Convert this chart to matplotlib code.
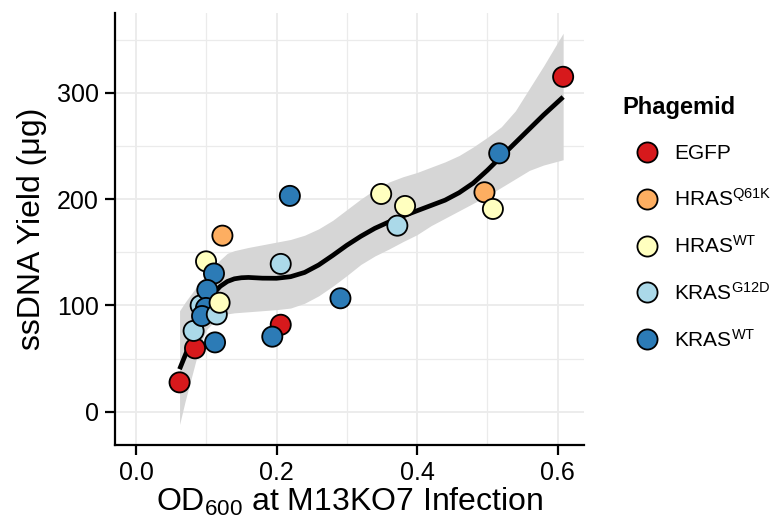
import matplotlib
matplotlib.use("Agg")
import matplotlib.pyplot as plt
from matplotlib.lines import Line2D

plt.rcParams['font.family'] = ['Liberation Sans', 'DejaVu Sans']
plt.rcParams['mathtext.fontset'] = 'custom'
plt.rcParams['mathtext.rm'] = 'Liberation Sans'
plt.rcParams['mathtext.it'] = 'Liberation Sans:italic'
plt.rcParams['mathtext.bf'] = 'Liberation Sans:bold'

# ---- data ----
phagemids = ['EGFP', 'HRASQ61K', 'HRASWT', 'KRASG12D', 'KRASWT']
legend_labels = ['EGFP', r'HRAS$^{\mathrm{Q61K}}$', r'HRAS$^{\mathrm{WT}}$',
                 r'KRAS$^{\mathrm{G12D}}$', r'KRAS$^{\mathrm{WT}}$']
palette = ['#d7191c', '#fdae61', '#ffffbf', '#abd9e9', '#2c7bb6']

od600 = [0.062, 0.084, 0.206, 0.608,
         0.123, 0.496,
         0.0997, 0.349, 0.383, 0.508,
         0.206, 0.372, 0.082, 0.092,
         0.111, 0.1015, 0.0996, 0.094, 0.1125, 0.194, 0.219, 0.291, 0.517,
         0.115, 0.119]
yield_ug = [27.6, 59.6, 81.8, 315,
            165.6, 206.4,
            141.4, 204.8, 193.5, 190.7,
            139, 175, 76, 100,
            130, 114.5, 97.6, 90, 65.2, 70.6, 203, 106.7, 243,
            91.5, 102.5]
group = ['EGFP', 'EGFP', 'EGFP', 'EGFP',
         'HRASQ61K', 'HRASQ61K',
         'HRASWT', 'HRASWT', 'HRASWT', 'HRASWT',
         'KRASG12D', 'KRASG12D', 'KRASG12D', 'KRASG12D',
         'KRASWT', 'KRASWT', 'KRASWT', 'KRASWT', 'KRASWT', 'KRASWT', 'KRASWT', 'KRASWT', 'KRASWT',
         'KRASG12D', 'HRASWT']

# smooth fit and confidence band
smooth_x = [0.062, 0.07, 0.08, 0.09, 0.10, 0.11, 0.12, 0.13, 0.14, 0.15, 0.16, 0.18,
            0.20, 0.22, 0.24, 0.26, 0.28, 0.30, 0.32, 0.34, 0.36, 0.38, 0.40, 0.42,
            0.44, 0.46, 0.48, 0.50, 0.52, 0.54, 0.56, 0.58, 0.608]
smooth_fit = [40, 53, 69, 86, 100, 111, 118, 122.5, 125, 126, 126.3, 125.6,
              125.5, 127, 131, 138, 147, 156.5, 165, 172.5, 178.5, 184, 189, 194,
              199, 206, 215, 227, 240, 253, 266, 279, 296]
smooth_hi = [95, 103, 112, 121, 129, 136, 143, 149, 151.5, 153, 154.5, 157,
             159.5, 162, 166, 172, 180, 190, 200, 209, 216, 221, 225, 230,
             235, 241, 249, 258, 268, 283, 304, 325, 356]
smooth_lo = [-12, 10, 35, 60, 77, 84, 89, 92, 93, 93.5, 94, 95,
             96, 97.5, 102, 109, 118, 128, 138.5, 146.5, 153, 160, 166.5, 175,
             182, 189, 196, 203, 211, 219, 227, 232, 237]

x_ticks = [0.0, 0.2, 0.4, 0.6]
x_tick_labels = ['0.0', '0.2', '0.4', '0.6']
y_ticks = [0, 100, 200, 300]

# ---- figure ----
W, H = 776, 524
fig = plt.figure(figsize=(W / 100, H / 100), dpi=100)
ax = fig.add_axes([115 / W, (H - 445) / H, (584 - 115) / W, (445 - 13) / H])

ax.set_xlim(-0.0299, 0.6377)
ax.set_ylim(-31.3, 375)

grid_c = '#EBEBEB'
ax.set_xticks(x_ticks)
ax.set_xticklabels(x_tick_labels)
ax.set_yticks(y_ticks)
ax.set_xticks([0.1, 0.3, 0.5], minor=True)
ax.set_yticks([50, 150, 250, 350], minor=True)
ax.grid(True, which='major', color=grid_c, linewidth=1.3, zorder=0)
ax.grid(True, which='minor', color=grid_c, linewidth=0.9, zorder=0)
ax.set_axisbelow(True)

ax.fill_between(smooth_x, smooth_lo, smooth_hi, color='#D6D6D6', linewidth=0, zorder=1)
ax.plot(smooth_x, smooth_fit, color='black', linewidth=3.4, solid_capstyle='butt',
        solid_joinstyle='round', zorder=2)

cmap = dict(zip(phagemids, palette))
ax.scatter(od600, yield_ug, s=210, c=[cmap[g] for g in group],
           edgecolors='black', linewidths=1.3, zorder=3)

for side in ['top', 'right']:
    ax.spines[side].set_visible(False)
for side in ['left', 'bottom']:
    ax.spines[side].set_linewidth(1.6)
ax.tick_params(which='major', length=7.5, width=1.6, color='black',
               labelsize=18, pad=4)
ax.tick_params(which='minor', length=0)

ax.set_xlabel(r'OD$_{600}$ at M13KO7 Infection', fontsize=23, labelpad=1)
ax.set_ylabel('ssDNA Yield (μg)', fontsize=23, labelpad=7)

handles = [Line2D([0], [0], marker='o', linestyle='none', markersize=14.5,
                  markerfacecolor=c, markeredgecolor='black', markeredgewidth=1.3)
           for c in palette]
leg = fig.legend(handles, legend_labels, loc='upper left',
                 bbox_to_anchor=(622 / W, 1 - 96 / H), frameon=False,
                 title='Phagemid', title_fontproperties={'weight': 'bold', 'size': 17},
                 fontsize=15, labelspacing=1.2, handlelength=2.4,
                 handletextpad=0.12, borderpad=0, borderaxespad=0, alignment='left')

fig.savefig('out.png', dpi=100)
